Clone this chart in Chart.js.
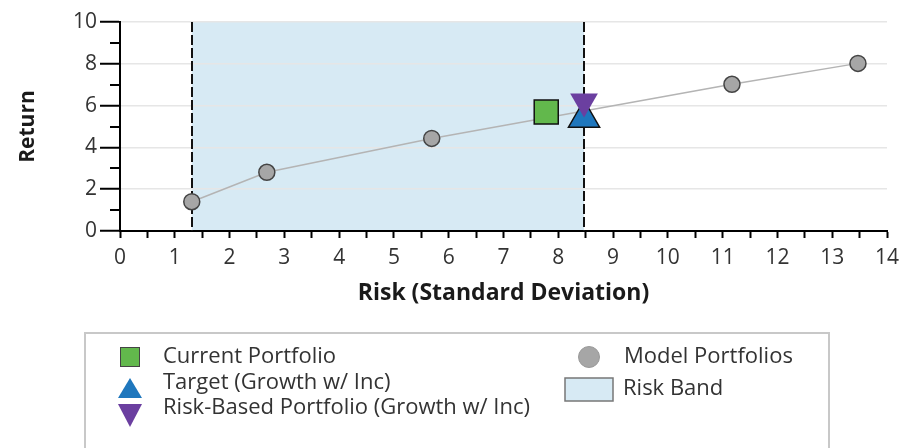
<!DOCTYPE html>
<html>
<head>
<meta charset="utf-8">
<script src="https://cdn.jsdelivr.net/npm/chart.js@4/dist/chart.umd.min.js"></script>
<style>
  body { margin: 0; background: #fff; }
  canvas { display: block; }
</style>
</head>
<body>
<canvas id="chart" width="919" height="448"></canvas>
<script>
'use strict'

// values
let modelRisk = [1.31, 2.68, 5.69, 11.17, 13.47];
let modelReturn = [1.40, 2.81, 4.43, 7.02, 8.02];
let currentRisk = [7.78];
let currentReturn = [5.69];
let targetRisk = [8.47];
let targetReturn = [5.4];
let riskBasedRisk = [8.47];
let riskBasedReturn = [6.2];
let bandRange = [1.31, 8.47];

let xTickLabels = ['0', '1', '2', '3', '4', '5', '6', '7', '8', '9', '10', '11', '12', '13', '14'];
let yTickLabels = ['0', '2', '4', '6', '8', '10'];

let fontFamily = '"Open Sans", "Noto Sans", sans-serif';
let bandColor = '#d7eaf4';

function toPoints(xs, ys) {
    return xs.map(function (x, i) {
        return { x: x, y: ys[i] };
    });
}

let bandPlugin = {
    id: 'riskBand',
    beforeDraw: function (chart) {
        let ctx = chart.ctx;
        let area = chart.chartArea;
        let left = chart.scales.x.getPixelForValue(bandRange[0]);
        let right = chart.scales.x.getPixelForValue(bandRange[1]);
        ctx.save();
        ctx.fillStyle = bandColor;
        ctx.fillRect(left, area.top, right - left, area.bottom - area.top);
        ctx.restore();
    },
    beforeDatasetsDraw: function (chart) {
        let ctx = chart.ctx;
        let area = chart.chartArea;
        ctx.save();
        ctx.strokeStyle = '#111';
        ctx.lineWidth = 2;
        ctx.setLineDash([10, 3]);
        bandRange.forEach(function (v) {
            let px = Math.round(chart.scales.x.getPixelForValue(v));
            ctx.beginPath();
            ctx.moveTo(px, area.top);
            ctx.lineTo(px, area.bottom);
            ctx.stroke();
        });
        ctx.restore();
    },
    afterDraw: function (chart) {
        let ctx = chart.ctx;
        let area = chart.chartArea;
        let y = chart.scales.y;

        // short ticks on odd values
        ctx.save();
        ctx.strokeStyle = '#000';
        ctx.lineWidth = 2;
        for (let v = 1; v < 10; v += 2) {
            let py = Math.round(y.getPixelForValue(v));
            ctx.beginPath();
            ctx.moveTo(area.left - 10, py);
            ctx.lineTo(area.left, py);
            ctx.stroke();
        }
        ctx.restore();

        drawLegend(chart);
    }
};

function drawLegend(chart) {
    let ctx = chart.ctx;
    let ds = chart.data.datasets;
    ctx.save();
    ctx.strokeStyle = '#c8c8c8';
    ctx.lineWidth = 2;
    ctx.strokeRect(85, 333, 744, 140);

    ctx.textBaseline = 'middle';
    ctx.textAlign = 'left';

    // current portfolio
    let cur = ds[2];
    ctx.fillStyle = cur.pointBackgroundColor;
    ctx.fillRect(120, 347, 20, 20);
    ctx.strokeStyle = '#444';
    ctx.lineWidth = 1;
    ctx.strokeRect(120.5, 347.5, 19, 19);

    // target
    let tgt = ds[1];
    ctx.fillStyle = tgt.pointBackgroundColor;
    ctx.beginPath();
    ctx.moveTo(130, 378);
    ctx.lineTo(142, 398);
    ctx.lineTo(118, 398);
    ctx.closePath();
    ctx.fill();

    // risk-based
    let rb = ds[0];
    ctx.fillStyle = rb.pointBackgroundColor;
    ctx.beginPath();
    ctx.moveTo(118, 404);
    ctx.lineTo(142, 404);
    ctx.lineTo(130, 427);
    ctx.closePath();
    ctx.fill();

    // model portfolios
    let mod = ds[3];
    ctx.fillStyle = mod.pointBackgroundColor;
    ctx.strokeStyle = '#999';
    ctx.lineWidth = 1;
    ctx.beginPath();
    ctx.arc(589, 357, 10.5, 0, Math.PI * 2);
    ctx.fill();
    ctx.stroke();

    // risk band
    ctx.fillStyle = bandColor;
    ctx.fillRect(565, 378, 48, 23);
    ctx.strokeStyle = '#777';
    ctx.lineWidth = 1.5;
    ctx.strokeRect(565, 378, 48, 23);

    ctx.font = '22px ' + fontFamily;
    ctx.fillStyle = '#333';
    ctx.fillText(cur.label, 163, 357);
    ctx.fillText(tgt.label, 163, 383);
    ctx.fillText(rb.label, 163, 408);
    ctx.fillText(mod.label, 624, 357);
    ctx.fillText('Risk Band', 623, 389);
    ctx.restore();
}

let canvas = document.getElementById('chart');

const data = {
    datasets: [{
        label: 'Risk-Based Portfolio (Growth w/ Inc)',
        data: toPoints(riskBasedRisk, riskBasedReturn),
        pointStyle: 'triangle',
        rotation: 180,
        pointRadius: 16,
        pointBackgroundColor: '#6b3fa0',
        pointBorderColor: '#6b3fa0',
        pointBorderWidth: 0,
        order: 0
    },
    {
        label: 'Target (Growth w/ Inc)',
        data: toPoints(targetRisk, targetReturn),
        pointStyle: 'triangle',
        pointRadius: 18,
        pointBackgroundColor: '#1f77bd',
        pointBorderColor: '#111',
        pointBorderWidth: 1.5,
        order: 1
    },
    {
        label: 'Current Portfolio',
        data: toPoints(currentRisk, currentReturn),
        pointStyle: 'rect',
        pointRadius: 17,
        pointBackgroundColor: '#62b84c',
        pointBorderColor: '#111',
        pointBorderWidth: 1.5,
        order: 2
    },
    {
        label: 'Model Portfolios',
        data: toPoints(modelRisk, modelReturn),
        showLine: true,
        borderColor: '#b4b4b4',
        borderWidth: 1.5,
        pointStyle: 'circle',
        pointRadius: 8,
        pointBackgroundColor: '#a6a6a6',
        pointBorderColor: '#444',
        pointBorderWidth: 1.5,
        order: 3
    }]
};

const config = {
    type: 'scatter',
    data: data,
    plugins: [bandPlugin],
    options: {
        responsive: false,
        animation: false,
        layout: {
            padding: { left: 15, right: 32, top: 22, bottom: 141 }
        },
        plugins: {
            legend: { display: false },
            tooltip: { enabled: false }
        },
        scales: {
            x: {
                type: 'linear',
                min: 0,
                max: 14,
                afterFit: function (scale) { scale.height = 76; },
                ticks: {
                    stepSize: 0.5,
                    autoSkip: false,
                    maxRotation: 0,
                    padding: 7,
                    color: '#333',
                    font: { family: fontFamily, size: 21 },
                    callback: function (value) {
                        let s = String(value);
                        return xTickLabels.includes(s) ? s : '';
                    }
                },
                grid: {
                    drawOnChartArea: false,
                    tickLength: 7,
                    tickColor: '#000',
                    tickWidth: 2
                },
                border: { color: '#000', width: 2 },
                title: {
                    display: true,
                    text: 'Risk (Standard Deviation)',
                    color: '#1a1a1a',
                    padding: 0,
                    font: { family: fontFamily, size: 23, weight: 'bold' }
                }
            },
            y: {
                type: 'linear',
                min: 0,
                max: 10,
                afterFit: function (scale) { scale.width = 105; },
                ticks: {
                    stepSize: 1,
                    padding: 3,
                    color: '#333',
                    font: { family: fontFamily, size: 21 },
                    callback: function (value) {
                        let s = String(value);
                        return yTickLabels.includes(s) ? s : '';
                    }
                },
                grid: {
                    color: function (ctx) {
                        return ctx.tick && ctx.tick.value === 0 ? 'rgba(0,0,0,0)' : '#e6e6e6';
                    },
                    lineWidth: 1.5,
                    tickLength: 20,
                    tickWidth: 2,
                    tickColor: function (ctx) {
                        return ctx.tick && ctx.tick.value % 2 === 0 ? '#000' : 'rgba(0,0,0,0)';
                    }
                },
                border: { color: '#000', width: 2 },
                title: {
                    display: true,
                    text: 'Return',
                    color: '#1a1a1a',
                    padding: 0,
                    font: { family: fontFamily, size: 21, weight: 'bold' }
                }
            }
        }
    }
};

const chart = new Chart(canvas, config);
</script>
</body>
</html>
